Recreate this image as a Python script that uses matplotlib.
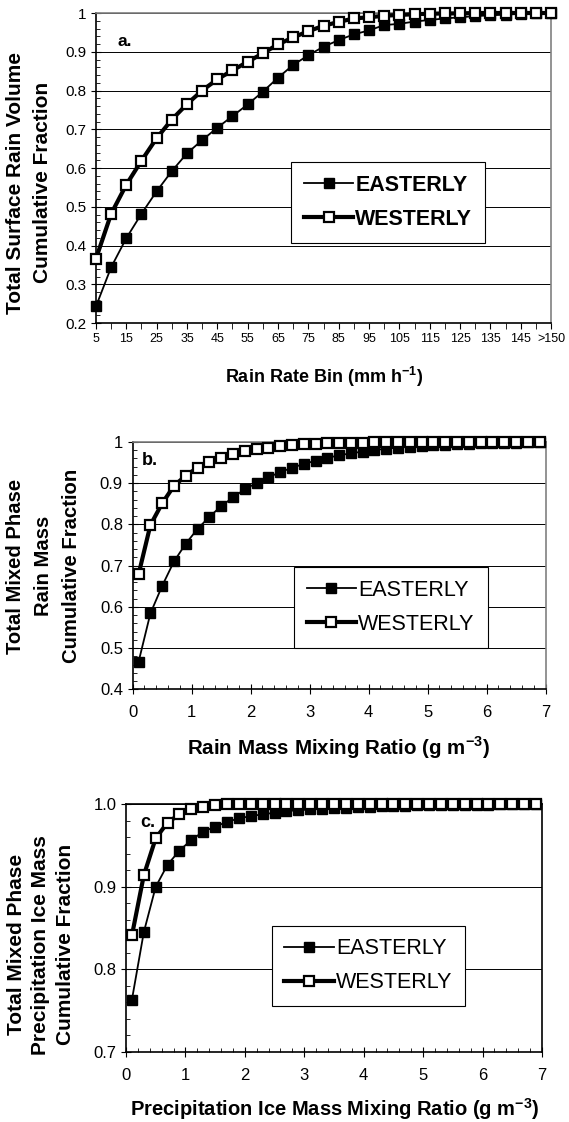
import matplotlib
matplotlib.use('Agg')
import matplotlib.pyplot as plt
from matplotlib.ticker import MultipleLocator, FuncFormatter

plt.rcParams['font.family'] = ['Liberation Sans', 'DejaVu Sans']
plt.rcParams['mathtext.fontset'] = 'custom'
plt.rcParams['mathtext.rm'] = 'Liberation Sans'
plt.rcParams['mathtext.bf'] = 'Liberation Sans:bold'

# panel a: rain rate bins (mm/h)
rate_bins = ['5', '10', '15', '20', '25', '30', '35', '40', '45', '50', '55', '60',
             '65', '70', '75', '80', '85', '90', '95', '100', '105', '110', '115',
             '120', '125', '130', '135', '140', '145', '150', '>150']
a_east = [0.243, 0.344, 0.419, 0.482, 0.540, 0.592, 0.638, 0.672, 0.704, 0.734,
          0.764, 0.797, 0.833, 0.866, 0.891, 0.913, 0.930, 0.945, 0.955, 0.969,
          0.972, 0.978, 0.982, 0.986, 0.989, 0.992, 0.994, 0.996, 0.998, 0.999, 1.0]
a_west = [0.366, 0.482, 0.557, 0.619, 0.677, 0.725, 0.765, 0.800, 0.829, 0.852,
          0.874, 0.896, 0.919, 0.937, 0.953, 0.967, 0.977, 0.986, 0.989, 0.993,
          0.995, 0.997, 0.998, 0.999, 0.999, 1.0, 1.0, 1.0, 1.0, 1.0, 1.0]

# panels b and c: mixing ratio bins (g/m3)
mix_bins = [0.1, 0.3, 0.5, 0.7, 0.9, 1.1, 1.3, 1.5, 1.7, 1.9, 2.1, 2.3, 2.5, 2.7,
            2.9, 3.1, 3.3, 3.5, 3.7, 3.9, 4.1, 4.3, 4.5, 4.7, 4.9, 5.1, 5.3, 5.5,
            5.7, 5.9, 6.1, 6.3, 6.5, 6.7, 6.9]
b_east = [0.467, 0.584, 0.651, 0.710, 0.753, 0.789, 0.818, 0.844, 0.865, 0.885,
          0.900, 0.914, 0.926, 0.937, 0.946, 0.954, 0.961, 0.967, 0.972, 0.976,
          0.980, 0.983, 0.986, 0.988, 0.990, 0.992, 0.993, 0.994, 0.995, 0.996,
          0.997, 0.998, 0.998, 0.999, 0.999]
b_west = [0.679, 0.798, 0.851, 0.893, 0.918, 0.937, 0.952, 0.961, 0.970, 0.977,
          0.982, 0.986, 0.990, 0.992, 0.994, 0.995, 0.996, 0.997, 0.998, 0.998,
          0.999, 0.999, 0.999, 1.0, 1.0, 1.0, 1.0, 1.0, 1.0, 1.0,
          1.0, 1.0, 1.0, 1.0, 1.0]
c_east = [0.763, 0.845, 0.900, 0.927, 0.944, 0.957, 0.967, 0.973, 0.979, 0.983,
          0.986, 0.988, 0.990, 0.992, 0.993, 0.994, 0.995, 0.996, 0.996, 0.997,
          0.997, 0.998, 0.998, 0.998, 0.999, 0.999, 0.999, 0.999, 0.999, 0.999,
          0.999, 1.0, 1.0, 1.0, 1.0]
c_west = [0.841, 0.914, 0.959, 0.978, 0.988, 0.994, 0.997, 0.999, 1.0, 1.0,
          1.0, 1.0, 1.0, 1.0, 1.0, 1.0, 1.0, 1.0, 1.0, 1.0,
          1.0, 1.0, 1.0, 1.0, 1.0, 1.0, 1.0, 1.0, 1.0, 1.0,
          1.0, 1.0, 1.0, 1.0, 1.0]

GRAY = '#808080'
gfmt = FuncFormatter(lambda v, p: '%g' % round(v, 3))


def draw_pair(ax, x, east, west, ms, legend_bold, legend_center, fs_leg):
    ax.plot(x, east, color='black', lw=1.3, marker='s', ms=ms, mfc='black',
            mec='black', label='EASTERLY', clip_on=False, zorder=3)
    ax.plot(x, west, color='black', lw=3.0, marker='s', ms=ms, mfc='white',
            mec='black', mew=1.6, label='WESTERLY', clip_on=False, zorder=4)
    leg = ax.legend(loc='center', bbox_to_anchor=legend_center, frameon=True,
                    fancybox=False, framealpha=1, edgecolor='black',
                    handlelength=2.3, handletextpad=0.1, borderpad=0.6,
                    labelspacing=0.6, borderaxespad=0,
                    prop={'size': fs_leg, 'weight': 'bold' if legend_bold else 'normal'})
    leg.get_frame().set_linewidth(0.8)


def style_axes(ax, frame_color):
    ax.spines['left'].set_color('black')
    ax.spines['bottom'].set_color('black')
    ax.spines['top'].set_color(frame_color)
    ax.spines['right'].set_color(frame_color)
    for s in ax.spines.values():
        s.set_linewidth(1.2)
    ax.yaxis.grid(True, color='black', lw=0.7)
    ax.set_axisbelow(True)


fig = plt.figure(figsize=(5.69, 11.22), dpi=100)

# ---------- a ----------
ax1 = fig.add_axes([0.1687, 0.7121, 0.7997, 0.2763])
pos = list(range(len(rate_bins)))
draw_pair(ax1, pos, a_east, a_west, 7.5, True, (0.642, 0.389), 15.5)
ax1.set_xlim(0, 30)
ax1.set_ylim(0.2, 1.0)
ax1.set_xticks(pos[::2])
ax1.set_xticklabels(rate_bins[::2], fontsize=9)
ax1.set_xticks(pos, minor=True)
ax1.tick_params(axis='x', which='both', direction='out', length=4, pad=3)
ax1.yaxis.set_major_locator(MultipleLocator(0.1))
ax1.yaxis.set_minor_locator(MultipleLocator(0.02))
ax1.yaxis.set_major_formatter(gfmt)
ax1.tick_params(axis='y', which='major', direction='inout', length=7, labelsize=11)
ax1.tick_params(axis='y', which='minor', direction='in', length=3)
style_axes(ax1, GRAY)
ax1.text(0.048, 0.894, 'a.', transform=ax1.transAxes, fontsize=12.5,
         fontweight='bold', va='baseline')
fig.text(0.051, 0.8373, 'Total Surface Rain Volume\nCumulative Fraction', rotation=90,
         ha='center', va='center', fontsize=15, fontweight='bold', linespacing=1.5)
fig.text(0.569, 0.664, r'Rain Rate Bin (mm h$^{\mathbf{-1}}$)', ha='center', va='center',
         fontsize=13, fontweight='bold')

# ---------- b ----------
ax2 = fig.add_axes([0.2332, 0.3855, 0.7255, 0.2208])
draw_pair(ax2, mix_bins, b_east, b_west, 7.5, False, (0.625, 0.331), 15.5)
ax2.set_xlim(0, 7)
ax2.set_ylim(0.4, 1.0)
ax2.xaxis.set_major_locator(MultipleLocator(1))
ax2.xaxis.set_minor_locator(MultipleLocator(0.2))
ax2.yaxis.set_major_locator(MultipleLocator(0.1))
ax2.yaxis.set_minor_locator(MultipleLocator(0.02))
ax2.yaxis.set_major_formatter(gfmt)
ax2.tick_params(which='major', direction='inout', length=7, labelsize=12)
ax2.tick_params(axis='x', which='major', pad=8)
ax2.tick_params(which='minor', direction='in', length=3)
style_axes(ax2, GRAY)
ax2.text(0.023, 0.906, 'b.', transform=ax2.transAxes, fontsize=13,
         fontweight='bold', va='baseline')
fig.text(0.0773, 0.4955, 'Total Mixed Phase\nRain Mass\nCumulative Fraction', rotation=90,
         ha='center', va='center', fontsize=14.6, fontweight='bold', linespacing=1.6)
fig.text(0.594, 0.3333, r'Rain Mass Mixing Ratio (g m$^{\mathbf{-3}}$)', ha='center',
         va='center', fontsize=14.8, fontweight='bold')

# ---------- c ----------
ax3 = fig.add_axes([0.2214, 0.0627, 0.7311, 0.2203])
draw_pair(ax3, mix_bins, c_east, c_west, 7.5, False, (0.583, 0.347), 15.5)
ax3.set_xlim(0, 7)
ax3.set_ylim(0.7, 1.0)
ax3.xaxis.set_major_locator(MultipleLocator(1))
ax3.xaxis.set_minor_locator(MultipleLocator(0.2))
ax3.yaxis.set_major_locator(MultipleLocator(0.1))
ax3.yaxis.set_minor_locator(MultipleLocator(0.02))
ax3.yaxis.set_major_formatter(FuncFormatter(lambda v, p: '%.1f' % v))
ax3.tick_params(which='major', direction='inout', length=7, labelsize=12)
ax3.tick_params(axis='x', which='major', pad=8)
ax3.tick_params(which='minor', direction='in', length=3)
style_axes(ax3, 'black')
ax3.text(0.034, 0.909, 'c.', transform=ax3.transAxes, fontsize=13,
         fontweight='bold', va='baseline')
fig.text(0.072, 0.158, 'Total Mixed Phase\nPrecipitation Ice Mass\nCumulative Fraction',
         rotation=90, ha='center', va='center', fontsize=15, fontweight='bold',
         linespacing=1.35)
fig.text(0.588, 0.0115, r'Precipitation Ice Mass Mixing Ratio (g m$^{\mathbf{-3}}$)',
         ha='center', va='center', fontsize=14.5, fontweight='bold')

fig.savefig('out.png', dpi=100)
